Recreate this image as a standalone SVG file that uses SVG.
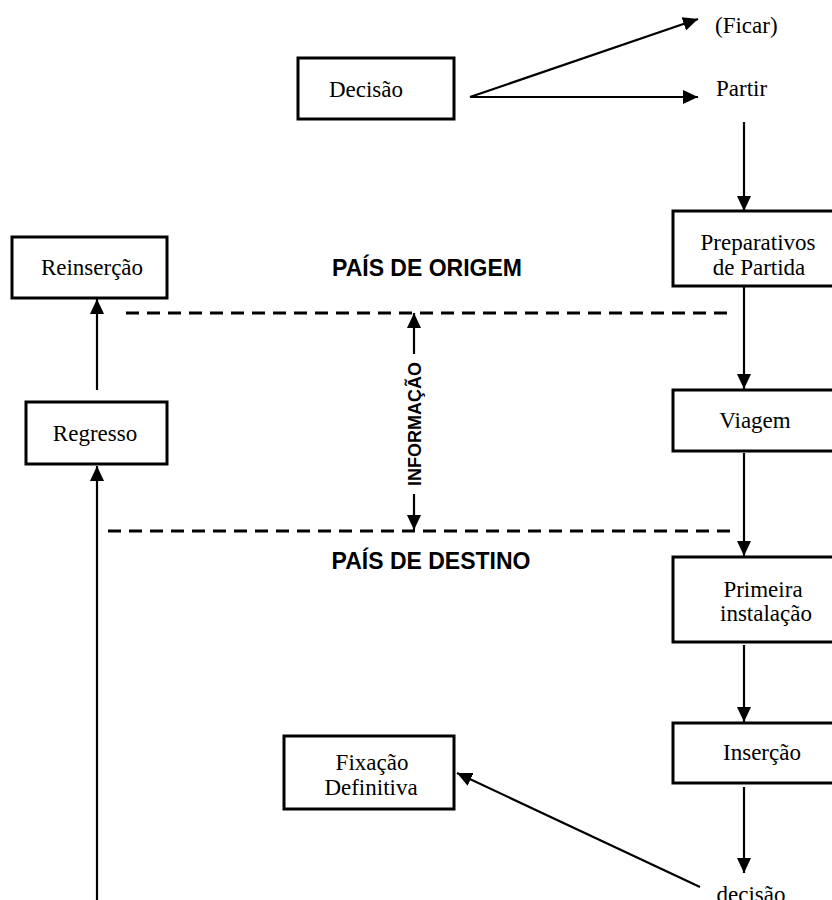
<svg xmlns="http://www.w3.org/2000/svg" width="832" height="900" viewBox="0 0 832 900">
<defs>
<style>
.box{fill:#fff;stroke:#000;stroke-width:3}
.lbl{font-family:"Liberation Serif","Times New Roman",serif;font-size:23px;fill:#000;text-anchor:middle}
.lft{text-anchor:start}
.hdr{font-family:"Liberation Sans",Arial,sans-serif;font-weight:bold;font-size:23px;fill:#000;text-anchor:middle}
.info{font-family:"Liberation Sans",Arial,sans-serif;font-weight:bold;font-size:18px;fill:#000;text-anchor:middle}
.con{stroke:#000;stroke-width:2.2;fill:none}
.dash{stroke:#000;stroke-width:3;stroke-dasharray:13 8;fill:none}
</style>
<marker id="ah" markerUnits="userSpaceOnUse" markerWidth="16" markerHeight="14" refX="15" refY="7" orient="auto">
<path d="M0,0 L15,7 L0,14 Z" fill="#000"/>
</marker>
</defs>
<g id="connectors">
<line class="con" x1="470" y1="97" x2="698" y2="19" marker-end="url(#ah)"/>
<line class="con" x1="470" y1="97" x2="698" y2="97" marker-end="url(#ah)"/>
<line class="con" x1="744" y1="122" x2="744" y2="211" marker-end="url(#ah)"/>
<line class="con" x1="744" y1="287" x2="744" y2="389" marker-end="url(#ah)"/>
<line class="con" x1="744" y1="453" x2="744" y2="556" marker-end="url(#ah)"/>
<line class="con" x1="744" y1="645" x2="744" y2="722" marker-end="url(#ah)"/>
<line class="con" x1="744" y1="787" x2="744" y2="873" marker-end="url(#ah)"/>
<line class="con" x1="700" y1="887" x2="457" y2="773" marker-end="url(#ah)"/>
<line class="con" x1="97" y1="390" x2="97" y2="299" marker-end="url(#ah)"/>
<line class="con" x1="97" y1="900" x2="97" y2="466" marker-end="url(#ah)"/>
<line class="con" x1="414" y1="354" x2="414" y2="313" marker-end="url(#ah)"/>
<line class="con" x1="414" y1="494" x2="414" y2="530" marker-end="url(#ah)"/>
<line class="dash" x1="126" y1="313" x2="731" y2="313"/>
<line class="dash" x1="108" y1="531" x2="731" y2="531"/>
</g>
<g id="decisao">
<rect class="box" x="298" y="58" width="156" height="61"/>
<text class="lbl" x="366" y="97">Decisão</text>
</g>
<g id="ficar"><text class="lbl lft" x="715" y="33">(Ficar)</text></g>
<g id="partir"><text class="lbl lft" x="716" y="96">Partir</text></g>
<g id="preparativos">
<rect class="box" x="673" y="211" width="180" height="75"/>
<text class="lbl" x="758" y="250">Preparativos</text>
<text class="lbl" x="759" y="275">de Partida</text>
</g>
<g id="reinsercao">
<rect class="box" x="12" y="237" width="155" height="61"/>
<text class="lbl" x="92" y="275">Reinserção</text>
</g>
<g id="pais-origem"><text class="hdr" x="427" y="276">PAÍS DE ORIGEM</text></g>
<g id="informacao"><text class="info" transform="translate(420.5,424) rotate(-90)">INFORMAÇÃO</text></g>
<g id="regresso">
<rect class="box" x="26" y="402" width="141" height="62"/>
<text class="lbl" x="95" y="441">Regresso</text>
</g>
<g id="viagem">
<rect class="box" x="673" y="390" width="180" height="61"/>
<text class="lbl" x="755" y="428">Viagem</text>
</g>
<g id="pais-destino"><text class="hdr" x="431" y="569">PAÍS DE DESTINO</text></g>
<g id="primeira">
<rect class="box" x="673" y="557" width="180" height="85"/>
<text class="lbl" x="763" y="597">Primeira</text>
<text class="lbl" x="766" y="621">instalação</text>
</g>
<g id="insercao">
<rect class="box" x="673" y="723" width="180" height="60"/>
<text class="lbl" x="762" y="760">Inserção</text>
</g>
<g id="fixacao">
<rect class="box" x="284" y="736" width="170" height="73"/>
<text class="lbl" x="372" y="770">Fixação</text>
<text class="lbl" x="371" y="795">Definitiva</text>
</g>
<g id="decisao2"><text class="lbl" x="751" y="902">decisão</text></g>
</svg>
